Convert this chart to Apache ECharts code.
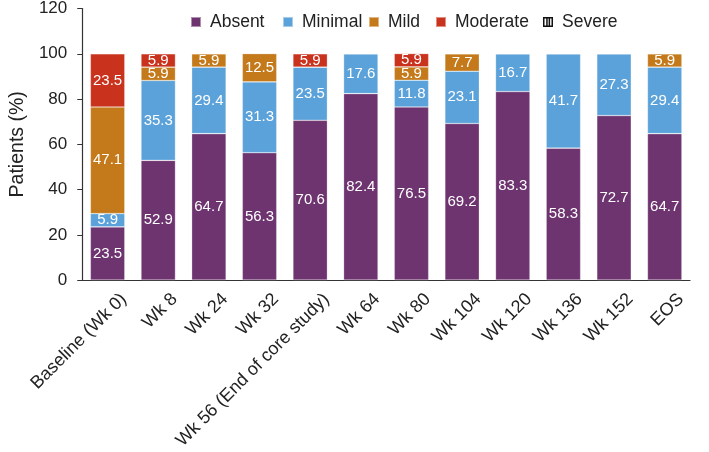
<!DOCTYPE html>
<html>
<head>
<meta charset="utf-8">
<script src="https://cdn.jsdelivr.net/npm/echarts@6/dist/echarts.min.js"></script>
<style>html,body{margin:0;padding:0;background:#fff}#c{width:709px;height:452px}</style>
</head>
<body>
<div id="c"></div>
<script>
const categories = ['Baseline (Wk 0)','Wk 8','Wk 24','Wk 32','Wk 56 (End of core study)','Wk 64','Wk 80','Wk 104','Wk 120','Wk 136','Wk 152','EOS'];
const absent   = [23.5, 52.9, 64.7, 56.3, 70.6, 82.4, 76.5, 69.2, 83.3, 58.3, 72.7, 64.7];
const minimal  = [5.9, 35.3, 29.4, 31.3, 23.5, 17.6, 11.8, 23.1, 16.7, 41.7, 27.3, 29.4];
const mild     = [47.1, 5.9, 5.9, 12.5, 0, 0, 5.9, 7.7, 0, 0, 0, 5.9];
const moderate = [23.5, 5.9, 0, 0, 5.9, 0, 5.9, 0, 0, 0, 0, 0];
const severe   = [0, 0, 0, 0, 0, 0, 0, 0, 0, 0, 0, 0];
const seriesNames = ['Absent', 'Minimal', 'Mild', 'Moderate', 'Severe'];
const yTicks = [0, 20, 40, 60, 80, 100, 120];

const severeIcon = 'image://data:image/svg+xml;utf8,' + encodeURIComponent(
  '<svg xmlns="http://www.w3.org/2000/svg" width="10" height="10"><rect x="0.6" y="0.6" width="8.8" height="8.8" fill="#fff" stroke="#111" stroke-width="1.8"/><rect x="3.2" y="0" width="1.5" height="10" fill="#111"/><rect x="5.6" y="0" width="1.5" height="10" fill="#111"/></svg>');

const font = 'Liberation Sans, Arial, sans-serif';
function mk(name, data, color) {
  return {
    name, type: 'bar', stack: 'a', data, barWidth: '68%',
    itemStyle: { color, borderColor: 'rgba(255,255,255,0.45)', borderWidth: 0.6 },
    label: {
      show: true, position: 'inside', color: '#fff', fontSize: 15, fontFamily: font,
      formatter: p => p.value > 0 ? p.value.toFixed(1) : ''
    }
  };
}
const legendLefts = [185, 277, 363, 430, 538];
const legends = seriesNames.map((n, i) => ({
  top: 8, left: legendLefts[i], itemWidth: 10, itemHeight: 10,
  textStyle: { fontSize: 17.5, color: '#222', fontFamily: font, padding: [0, 0, 0, 4] },
  data: [{ name: n, icon: n === 'Severe' ? severeIcon : 'rect' }]
}));
const chart = echarts.init(document.getElementById('c'));
chart.setOption({
  animation: false,
  textStyle: { fontFamily: font },
  legend: legends,
  grid: { left: 74, right: 19, top: 8, bottom: 167, containLabel: false },
  xAxis: {
    type: 'category', data: categories,
    axisLine: { lineStyle: { color: '#333', width: 1.2 } },
    axisTick: { show: false },
    axisLabel: { rotate: 45, fontSize: 18, color: '#222', margin: 0, interval: 0, fontFamily: font,
      verticalAlign: 'top', padding: [14, 0, 0, 0] }
  },
  yAxis: {
    type: 'value', min: yTicks[0], max: yTicks[yTicks.length - 1], interval: 20,
    name: 'Patients (%)', nameLocation: 'middle', nameGap: 47,
    nameTextStyle: { fontSize: 19.5, color: '#222', fontFamily: font },
    axisLine: { show: true, lineStyle: { color: '#333', width: 1.2 } },
    axisTick: { show: true, length: 5, lineStyle: { color: '#333' } },
    axisLabel: { fontSize: 17, color: '#222', margin: 15, fontFamily: font },
    splitLine: { show: false }
  },
  series: [
    mk('Absent', absent, '#6E3470'),
    mk('Minimal', minimal, '#5BA2DA'),
    mk('Mild', mild, '#C47A1B'),
    mk('Moderate', moderate, '#C9321C'),
    mk('Severe', severe, '#ffffff')
  ]
});
</script>
</body>
</html>
